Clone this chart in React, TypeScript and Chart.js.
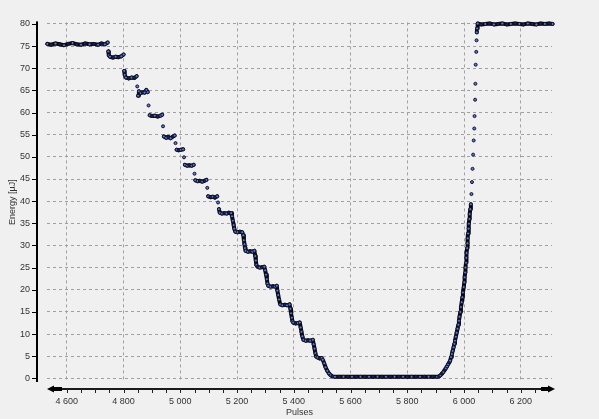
import React, { useEffect, useRef } from 'react';
import { Chart, registerables } from 'chart.js';

Chart.register(...registerables);

// Pulses (x) and energy in µJ (y), section by section
const pulses = [
  4531, 4545, 4560, 4575, 4590, 4605, 4620, 4635, 4650, 4665, 4680, 4695, 4710, 4722, 4734, 4744,
  4746, 4748, 4752, 4762, 4772, 4782, 4792, 4800,
  4802, 4804, 4808, 4818, 4828, 4838, 4846,
  4848, 4851, 4854, 4860, 4867, 4874, 4880, 4885,
  4888, 4892, 4900, 4910, 4920, 4930, 4936,
  4939, 4942, 4950, 4958, 4966, 4974, 4980,
  4983, 4987, 4994, 5002, 5010,
  5013, 5016, 5024, 5032, 5040, 5047,
  5050, 5053, 5061, 5069, 5077, 5085, 5092,
  5095, 5098, 5106, 5114, 5122, 5130, 5133,
  5136, 5139, 5147, 5155, 5163, 5171, 5179,
  5182, 5185, 5188, 5190, 5194, 5202, 5210, 5218,
  5222, 5224, 5226, 5228, 5230, 5238, 5246, 5254, 5261,
  5264, 5266, 5268, 5272, 5280, 5288, 5296,
  5299, 5302, 5305, 5307, 5310, 5318, 5326, 5334, 5340,
  5342, 5345, 5348, 5352, 5360, 5368, 5376, 5385,
  5388, 5390, 5393, 5395, 5398, 5406, 5414, 5421,
  5424, 5427, 5430, 5434, 5442, 5450, 5458, 5467,
  5470, 5473, 5476, 5479, 5484, 5491, 5498,
  5502, 5507, 5512, 5518, 5524, 5530, 5536,
  5545, 5560, 5575, 5590, 5605, 5620, 5635, 5650, 5665, 5680, 5695, 5710, 5725,
  5740, 5755, 5770, 5785, 5800, 5815, 5830, 5845, 5860, 5875, 5890, 5905,
  5912, 5917, 5922, 5927, 5932, 5936, 5940, 5944, 5948, 5951,
  5954, 5957, 5960, 5963, 5966, 5968, 5971, 5974, 5977, 5980,
  5982, 5984, 5987, 5989, 5992, 5994, 5996, 5999, 6001,
  6002, 6004, 6005, 6007, 6008, 6009, 6011, 6012,
  6013, 6014, 6016, 6017, 6019, 6020, 6022, 6024,
  6026, 6028, 6030, 6032, 6034, 6036, 6037, 6039, 6040, 6041, 6043, 6044, 6045, 6046,
  6048, 6060, 6075, 6090, 6105, 6120, 6135, 6150, 6165, 6180, 6195,
  6210, 6225, 6240, 6255, 6270, 6285, 6300, 6312,
];

const energy = [
  75.5, 75.3, 75.6, 75.4, 75.2, 75.5, 75.7, 75.4, 75.3, 75.6, 75.4, 75.5, 75.3, 75.6, 75.4, 75.8,
  73.8, 72.9, 72.6, 72.4, 72.6, 72.5, 72.7, 73.1,
  69.4, 68.5, 67.9, 67.7, 67.9, 67.8, 68.2,
  65.9, 63.8, 64.8, 64.4, 64.6, 64.5, 65.1, 64.6,
  61.6, 59.4, 59.2, 59.3, 59.1, 59.3, 59.5,
  56.9, 54.6, 54.3, 54.5, 54.2, 54.6, 54.8,
  53.1, 51.6, 51.5, 51.6, 51.7,
  49.9, 48.2, 48.0, 48.1, 48.0, 48.2,
  46.2, 44.7, 44.5, 44.6, 44.4, 44.6, 44.8,
  43.0, 41.1, 40.9, 41.0, 40.8, 41.1, 39.7,
  38.2, 37.4, 37.2, 37.3, 37.2, 37.4, 37.3,
  36.6, 35.6, 34.6, 33.8, 33.1, 33.0, 33.1, 33.0,
  32.3, 31.2, 30.3, 29.4, 28.8, 28.6, 28.7, 28.6, 28.8,
  27.6, 26.6, 25.6, 25.2, 25.0, 25.1, 25.2,
  24.4, 23.4, 22.4, 21.4, 20.9, 20.7, 20.8, 20.7, 20.9,
  19.8, 18.8, 17.8, 16.7, 16.5, 16.6, 16.5, 16.7,
  15.7, 14.7, 13.7, 12.9, 12.6, 12.4, 12.5, 12.6,
  11.5, 10.5, 9.5, 8.7, 8.5, 8.6, 8.5, 8.7,
  7.7, 6.7, 5.7, 4.9, 4.7, 4.5, 4.6,
  4.2, 3.4, 2.5, 1.7, 1.1, 0.7, 0.45,
  0.35, 0.35, 0.35, 0.35, 0.35, 0.35, 0.35, 0.35, 0.35, 0.35, 0.35, 0.35, 0.35,
  0.35, 0.35, 0.35, 0.35, 0.35, 0.35, 0.35, 0.35, 0.35, 0.35, 0.35, 0.35,
  0.45, 0.7, 1.05, 1.45, 1.9, 2.3, 2.7, 3.2, 3.6, 4.0,
  4.8, 5.5, 6.2, 7.0, 7.8, 8.5, 9.4, 10.3, 11.2, 12.1,
  13.0, 13.9, 15.0, 16.1, 17.2, 18.3, 19.4, 20.6, 21.7,
  22.8, 23.9, 25.0, 26.1, 27.2, 28.3, 29.4, 30.5,
  31.6, 32.7, 33.8, 34.9, 36.0, 37.1, 38.2, 39.3,
  41.6, 44.3, 47.3, 50.5, 53.7, 56.4, 59.2, 62.9, 66.5, 70.8, 73.7, 76.3, 78.1, 79.0,
  80.1, 79.9, 80.0, 80.1, 79.9, 80.0, 80.1, 79.9, 80.0, 80.1, 80.0,
  79.9, 80.1, 80.0, 79.9, 80.1, 80.0, 80.1, 80.0,
];

const xTicks = [4600, 4800, 5000, 5200, 5400, 5600, 5800, 6000, 6200];
const yTicks = [0, 5, 10, 15, 20, 25, 30, 35, 40, 45, 50, 55, 60, 65, 70, 75, 80];
const xMinorStep = 50;
const xRange = [4530, 6310];
const yRange = [-0.82, 80.35];
const xTitle = 'Pulses';
const yTitle = 'Energy [µJ]';

const FONT = "'Liberation Sans', Arial, sans-serif";

function fmt(v: number) {
  return String(v).replace(/\B(?=(\d{3})+(?!\d))/g, ' ');
}

const decorPlugin = {
  id: 'decor',
  beforeDraw(chart: any) {
    const { ctx, width, height } = chart;
    ctx.save();
    ctx.fillStyle = '#f0f0f0';
    ctx.fillRect(0, 0, width, height);
    ctx.restore();
  },
  afterDraw(chart: any) {
    const { ctx, chartArea: a, scales } = chart;
    const xs = scales.x;
    const ys = scales.y;
    ctx.save();
    ctx.fillStyle = '#000';
    // y axis line
    ctx.fillRect(36, a.top - 1, 2, a.bottom - a.top + 1);
    // y tick marks
    yTicks.forEach((v) => {
      const py = Math.round(ys.getPixelForValue(v));
      ctx.fillRect(32, py, 4, 1);
    });
    // x axis line with arrows
    ctx.fillStyle = '#1a1a1a';
    ctx.fillRect(53, 388, 496, 2);
    ctx.fillStyle = '#000';
    ctx.fillRect(53, 387, 9, 4);
    ctx.fillRect(541, 387, 8, 4);
    ctx.beginPath();
    ctx.moveTo(47, 389);
    ctx.lineTo(54, 385.5);
    ctx.lineTo(54, 392.5);
    ctx.closePath();
    ctx.fill();
    ctx.beginPath();
    ctx.moveTo(555, 389);
    ctx.lineTo(548, 385.5);
    ctx.lineTo(548, 392.5);
    ctx.closePath();
    ctx.fill();
    // x tick marks
    ctx.fillStyle = '#222';
    const start = Math.ceil(xRange[0] / xMinorStep) * xMinorStep;
    for (let p = start; p <= xRange[1]; p += xMinorStep) {
      const px = Math.round(xs.getPixelForValue(p));
      if (px < 60 || px > 540) continue;
      ctx.fillRect(px, 389, 1, 4);
    }
    // titles
    ctx.fillStyle = '#333';
    ctx.font = `9px ${FONT}`;
    ctx.textAlign = 'center';
    ctx.textBaseline = 'middle';
    ctx.fillText(xTitle, (a.left + a.right) / 2, 413);
    ctx.translate(13, (a.top + a.bottom) / 2);
    ctx.rotate(-Math.PI / 2);
    ctx.fillText(yTitle, 0, 0);
    ctx.restore();
  },
};

function isGap(c: any) {
  const d = Math.hypot(c.p1.x - c.p0.x, c.p1.y - c.p0.y);
  return d > 6;
}

// points sitting inside a flat run are drawn darker (dense overlapping markers look black)
function isFlat(i: number) {
  const prev = i > 0 ? Math.abs(energy[i] - energy[i - 1]) : 0;
  const next = i < energy.length - 1 ? Math.abs(energy[i + 1] - energy[i]) : 0;
  return prev < 0.45 && next < 0.45;
}

export default function App() {
  const ref = useRef<HTMLCanvasElement | null>(null);

  useEffect(() => {
    if (!ref.current) return;
    const chart = new Chart(ref.current, {
      type: 'line',
      data: {
        datasets: [
          {
            label: 'Energy',
            data: pulses.map((p, i) => ({ x: p, y: energy[i] })),
            showLine: true,
            borderColor: '#000',
            borderWidth: 4,
            borderJoinStyle: 'round',
            borderCapStyle: 'round',
            tension: 0,
            pointRadius: 1.5,
            pointBorderWidth: 1,
            pointBackgroundColor: (c: any) => (isFlat(c.dataIndex) && c.dataIndex % 2 === 1 ? '#1c2350' : '#5d78d8'),
            pointBorderColor: '#10122a',
            clip: false as any,
            segment: {
              borderColor: (c: any) => (isGap(c) ? 'rgba(0,0,0,0)' : '#050505'),
            },
          } as any,
        ],
      },
      options: {
        animation: false,
        responsive: false,
        events: [],
        layout: { padding: { top: 14, right: 47, left: 0, bottom: 0 } },
        plugins: { legend: { display: false }, tooltip: { enabled: false } },
        scales: {
          x: {
            type: 'linear',
            min: xRange[0],
            max: xRange[1],
            afterFit: (s: any) => {
              s.height = 37;
            },
            afterBuildTicks: (s: any) => {
              s.ticks = xTicks.map((value) => ({ value }));
            },
            grid: { color: '#a0a0a0', lineWidth: 1, drawTicks: false },
            border: { display: false, dash: [3, 3] },
            ticks: {
              padding: 14,
              color: '#333',
              font: { family: FONT, size: 9 },
              maxRotation: 0,
              autoSkip: false,
              callback: (v: any) => fmt(Number(v)),
            },
          },
          y: {
            type: 'linear',
            min: yRange[0],
            max: yRange[1],
            afterFit: (s: any) => {
              s.width = 47;
            },
            afterBuildTicks: (s: any) => {
              s.ticks = yTicks.map((value) => ({ value }));
            },
            grid: { color: '#a0a0a0', lineWidth: 1, drawTicks: false },
            border: { display: false, dash: [3, 3] },
            ticks: {
              padding: 17,
              color: '#333',
              font: { family: FONT, size: 9 },
              autoSkip: false,
              callback: (v: any) => String(v),
            },
          },
        },
      } as any,
      plugins: [decorPlugin],
    });
    return () => chart.destroy();
  }, []);

  return (
    <div style={{ position: 'fixed', left: 0, top: 0, width: 599, height: 419 }}>
      <canvas ref={ref} width={599} height={419} style={{ width: 599, height: 419, display: 'block' }} />
    </div>
  );
}
